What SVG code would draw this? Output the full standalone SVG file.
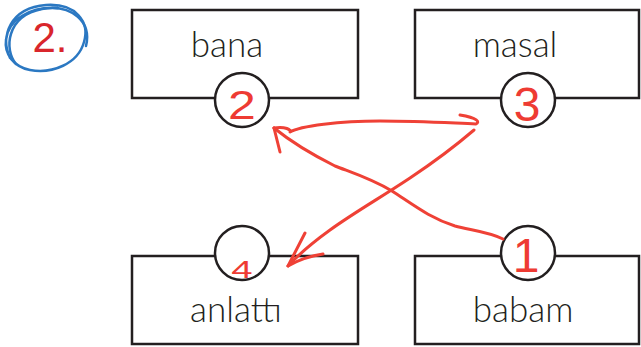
<svg xmlns="http://www.w3.org/2000/svg" width="641" height="347" viewBox="0 0 641 347">
<style>
.box{fill:#fff;stroke:#231f20;stroke-width:2.5}
.circ{fill:#fff;stroke:#231f20;stroke-width:2.5}
.word{font-family:Lato,"Liberation Sans",sans-serif;font-weight:300;font-size:35px;fill:#231f20;text-anchor:middle}
.num{font-family:"Liberation Sans",sans-serif;fill:#ee3b33;text-anchor:middle}
.pen{fill:none;stroke:#ef4136;stroke-width:3;stroke-linecap:round;stroke-linejoin:round}
.blue{fill:none;stroke:#2b78c2;stroke-width:2.5;stroke-linecap:round}
</style>
<rect width="641" height="347" fill="#fff"/>
<g id="badge">
<path class="blue" d="M10 58 C0 36 10 8 46 5 C76 3 90 22 84 42 C78 64 52 74 30 70 C14 67 4 54 6 40 C8 20 30 6 58 8"/>
<path class="blue" d="M16 64 C4 50 6 16 42 9 C72 4 92 22 86 46"/>
<text x="50" y="52" class="num" style="font-size:42px;fill:#d9262c">2.</text>
</g>
<g id="bana">
<rect class="box" x="132" y="10" width="226" height="88"/>
<text x="227" y="57" class="word">bana</text>
<circle class="circ" cx="242" cy="100" r="27"/>
<text x="242" y="119" class="num" style="font-size:40px" transform="translate(242 0) scale(1.25 1) translate(-242 0)">2</text>
</g>
<g id="masal">
<rect class="box" x="415" y="10" width="224" height="88"/>
<text x="515" y="57" class="word">masal</text>
<circle class="circ" cx="528" cy="100" r="27"/>
<text x="527" y="121" class="num" style="font-size:48px">3</text>
</g>
<g id="anlatti">
<rect class="box" x="132" y="256" width="226" height="88"/>
<text x="236" y="322" class="word">anlattı</text>
<circle class="circ" cx="242" cy="253" r="27"/>
<text x="242" y="278" class="num" style="font-size:24px" transform="translate(242 0) scale(1.6 1) translate(-242 0)">4</text>
</g>
<g id="babam">
<rect class="box" x="415" y="256" width="224" height="88"/>
<text x="523" y="322" class="word">babam</text>
<circle class="circ" cx="528" cy="253" r="27"/>
<text x="526" y="272" class="num" style="font-size:48px">1</text>
</g>
<g id="connectors">
<path class="pen" d="M503 239 C490 232 470 230 455 226 C430 218 415 206 392 191 C370 178 350 172 335 166 C315 156 295 145 274 128"/>
<path class="pen" d="M274 128 L280 152"/>
<path class="pen" d="M274 128 C285 126 292 130 290 132 C300 126 340 121 380 121 C420 121 450 123 476 124 C480 122 478 118 460 115"/>
<path class="pen" d="M474 130 C460 142 440 158 410 178 C380 198 355 212 330 230 C312 243 300 253 288 266"/>
<path class="pen" d="M288 266 L305 233 M288 266 C298 260 310 256 323 254"/>
</g>
</svg>
